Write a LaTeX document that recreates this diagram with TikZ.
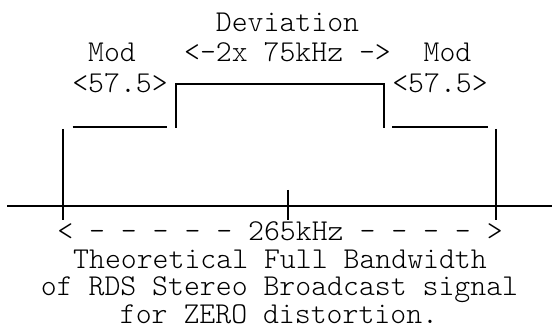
\documentclass[tikz,border=0pt]{standalone}
\usepackage{fontspec}
\setmonofont{Latin Modern Mono Light}
\begin{document}
\begin{tikzpicture}[x=1pt,y=-1pt,
  txt/.style={font=\ttfamily\fontsize{30.3}{32}\selectfont, anchor=base, inner sep=0pt, text=black},
  ln/.style={line width=1.8pt, black},
  us/.style={line width=1.4pt, black}]
\fill[white] (0,0) rectangle (552,334);
\useasboundingbox (0,0) rectangle (552,334);
% texts
\node[txt] (dev)  at (287.5,32) {Deviation};
\node[txt] (modl) at (112,62) {Mod};
\node[txt] (dv2)  at (287.5,62) {<-2x 75kHz ->};
\node[txt] (modr) at (447.5,62) {Mod};
\node[txt] (ml)   at (120,93) {<57.5>};
\node[txt] (mr)   at (440,93) {<57.5>};
\node[txt] (bw)   at (280,240.5) {< - - - - - 265kHz - - - - >};
\node[txt] (t1)   at (280,268) {Theoretical Full Bandwidth};
\node[txt] (t2)   at (279.5,295.5) {of RDS Stereo Broadcast signal};
\node[txt] (t3)   at (279,323) {for ZERO distortion.};
% coordinates
\coordinate (bl) at (176,128);
\coordinate (tl) at (176,84);
\coordinate (tr) at (384,84);
\coordinate (br) at (384,128);
% box
\draw[ln] (bl) -- (tl) -- (tr) -- (br);
% shoulders
\draw[us] (72.7,127) -- (167,127);
\draw[us] (392,127) -- (487.7,127);
% outer verticals
\draw[ln] (63.3,129) -- (63.3,220);
\draw[ln] (496,129) -- (496,220);
% axis
\draw[ln] (7,206) -- (552,206);
\draw[ln] (288,190) -- (288,220);
\end{tikzpicture}
\end{document}
